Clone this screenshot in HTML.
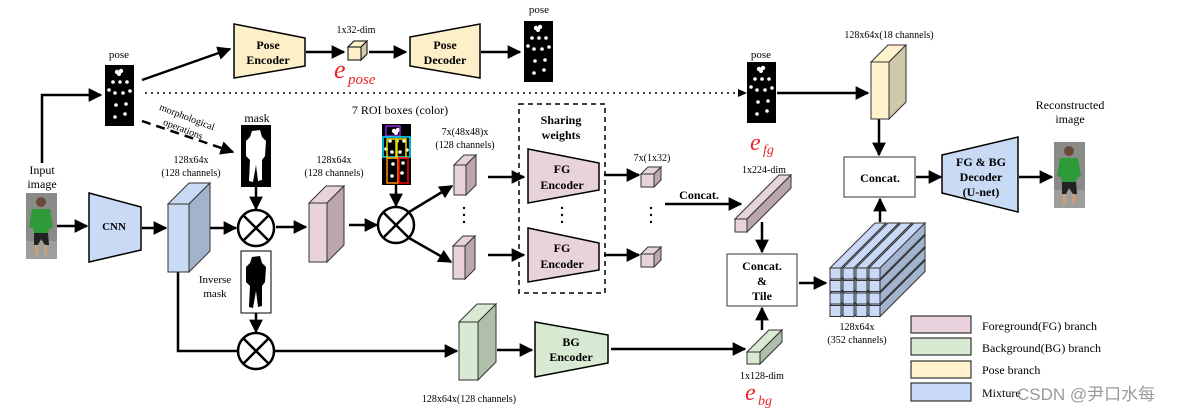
<!DOCTYPE html>
<html><head><meta charset="utf-8"><style>
html,body{margin:0;padding:0;background:#fff}
svg{display:block}
text{font-family:"Liberation Serif",serif;fill:#000}
.b{font-weight:bold;font-size:12px}
.s{font-size:10px}
.l{font-size:13px}
</style></head><body>
<svg width="1184" height="414" viewBox="0 0 1184 414" xmlns="http://www.w3.org/2000/svg">
<defs>
<marker id="a" viewBox="0 0 10 10" refX="9" refY="5" markerWidth="5.5" markerHeight="5.5" orient="auto" markerUnits="strokeWidth"><path d="M0,0 L10,5 L0,10 z" fill="#000"/></marker>
<g id="bar" stroke="#333" stroke-width="1">
<polygon points="0,0 45,-45 56,-45 11,0" fill="#c9daf8"/>
<polygon points="11,0 56,-45 56,-34 11,11" fill="#a3b4cf"/>
<rect x="0" y="0" width="11" height="11" fill="#c9daf8"/>
</g>
<g id="pose">
<rect x="0" y="0" width="29" height="61" fill="#000"/>
<g fill="#fff"><circle cx="12" cy="7" r="2.2"/><circle cx="16" cy="6" r="2.2"/><circle cx="14" cy="9" r="2"/>
<circle cx="8" cy="17" r="1.8"/><circle cx="15" cy="17" r="1.8"/><circle cx="22" cy="17" r="1.8"/>
<circle cx="4" cy="25" r="1.8"/><circle cx="25" cy="26" r="1.8"/><circle cx="10" cy="28" r="1.8"/><circle cx="18" cy="28" r="1.8"/>
<circle cx="11" cy="40" r="1.8"/><circle cx="21" cy="39" r="1.8"/><circle cx="10" cy="52" r="1.8"/><circle cx="20" cy="49" r="1.8"/></g>
</g>
<g id="person">
<rect x="0" y="0" width="31" height="66" fill="#8a8a86"/>
<rect x="0" y="48" width="31" height="18" fill="#a09e9a"/>
<circle cx="15" cy="9" r="5" fill="#6b4a3a"/>
<path d="M6,16 L24,16 L27,34 L23,36 L22,40 L8,40 L7,35 L3,34 z" fill="#2e9a3a"/>
<path d="M8,40 L22,40 L23,52 L19,52 L15,46 L12,52 L8,52 z" fill="#222"/>
<rect x="9" y="52" width="3" height="10" fill="#c8a080"/><rect x="18" y="52" width="3" height="10" fill="#c8a080"/>
</g>
</defs>

<g stroke="#000" stroke-width="2.5" fill="none">
<polyline points="42,163 42,95 101,95" marker-end="url(#a)"/>
<line x1="142" y1="80" x2="230" y2="49" marker-end="url(#a)"/>
<line x1="306" y1="52" x2="344" y2="52" marker-end="url(#a)"/>
<line x1="369" y1="52" x2="406" y2="52" marker-end="url(#a)"/>
<line x1="481" y1="52" x2="520" y2="52" marker-end="url(#a)"/>
<line x1="142" y1="121" x2="233" y2="152" stroke-dasharray="9,6" marker-end="url(#a)"/>
<line x1="57" y1="226" x2="87" y2="226" marker-end="url(#a)"/>
<line x1="142" y1="228" x2="166" y2="228" marker-end="url(#a)"/>
<line x1="210" y1="228" x2="236" y2="228" marker-end="url(#a)"/>
<line x1="256" y1="187" x2="256" y2="209" marker-end="url(#a)"/>
<line x1="276" y1="227" x2="306" y2="227" marker-end="url(#a)"/>
<line x1="349" y1="225" x2="377" y2="225" marker-end="url(#a)"/>
<line x1="396" y1="185" x2="396" y2="206" marker-end="url(#a)"/>
<line x1="409" y1="212" x2="452" y2="186" marker-end="url(#a)"/>
<line x1="409" y1="238" x2="451" y2="262" marker-end="url(#a)"/>
<line x1="488" y1="177" x2="524" y2="177" marker-end="url(#a)"/>
<line x1="488" y1="255" x2="524" y2="255" marker-end="url(#a)"/>
<line x1="256" y1="313" x2="256" y2="332" marker-end="url(#a)"/>
<polyline points="178,272 178,351 238,351"/>
<line x1="274" y1="351" x2="457" y2="351" marker-end="url(#a)"/>
<line x1="497" y1="350" x2="532" y2="350" marker-end="url(#a)"/>
<line x1="604" y1="175" x2="639" y2="175" marker-end="url(#a)"/>
<line x1="604" y1="255" x2="639" y2="255" marker-end="url(#a)"/>
<line x1="665" y1="204" x2="741" y2="204" marker-end="url(#a)"/>
<line x1="762" y1="222" x2="762" y2="252" marker-end="url(#a)"/>
<line x1="611" y1="349" x2="745" y2="349" marker-end="url(#a)"/>
<line x1="762" y1="330" x2="762" y2="308" marker-end="url(#a)"/>
<line x1="799" y1="283" x2="826" y2="283" marker-end="url(#a)"/>
<line x1="880" y1="222" x2="880" y2="199" marker-end="url(#a)"/>
<line x1="777" y1="93" x2="868" y2="93" marker-end="url(#a)"/>
<line x1="879" y1="119" x2="879" y2="155" marker-end="url(#a)"/>
<line x1="916" y1="177" x2="941" y2="177" marker-end="url(#a)"/>
<line x1="1019" y1="177" x2="1052" y2="177" marker-end="url(#a)"/>
</g>
<line x1="145" y1="93" x2="744" y2="93" stroke="#000" stroke-width="1.5" stroke-dasharray="2,4"/>
<path d="M738,89 L747,93 L738,97 z" fill="#000"/>
<rect x="519" y="104" width="86" height="189" fill="none" stroke="#000" stroke-width="1.5" stroke-dasharray="5,4"/>

<use href="#pose" x="105" y="65"/>
<text x="119" y="58" text-anchor="middle" style="font-size:11px">pose</text>
<polygon points="234,24 305,38 305,66 234,78" fill="#fdefc7" stroke="#000" stroke-width="1.5"/>
<text x="268" y="49" text-anchor="middle" class="b">Pose</text>
<text x="268" y="64" text-anchor="middle" class="b">Encoder</text>
<g stroke="#000" stroke-width="1"><polygon points="348,47 354,41 367,41 361,47" fill="#fdefc7"/><polygon points="361,47 367,41 367,54 361,60" fill="#d4cba8"/><rect x="348" y="47" width="13" height="13" fill="#fdefc7"/></g>
<text x="356" y="33" text-anchor="middle" class="s">1x32-dim</text>
<text x="334" y="78" style="font-size:26px;font-style:italic;fill:#e8262b">e</text>
<text x="348" y="84" style="font-size:15px;font-style:italic;fill:#e8262b">pose</text>
<polygon points="410,37 480,24 480,78 410,66" fill="#fdefc7" stroke="#000" stroke-width="1.5"/>
<text x="445" y="49" text-anchor="middle" class="b">Pose</text>
<text x="445" y="64" text-anchor="middle" class="b">Decoder</text>
<use href="#pose" x="524" y="21"/>
<text x="539" y="13" text-anchor="middle" style="font-size:11px">pose</text>

<text transform="translate(186,120) rotate(21)" text-anchor="middle" class="s">morphological</text>
<text transform="translate(182,132) rotate(21)" text-anchor="middle" class="s">operations</text>

<text x="42" y="174" text-anchor="middle" style="font-size:12px">Input</text>
<text x="42" y="188" text-anchor="middle" style="font-size:12px">image</text>
<use href="#person" x="26" y="193"/>

<polygon points="89,193 141,207 141,250 89,262" fill="#c9daf5" stroke="#000" stroke-width="1.5"/>
<text x="114" y="230" text-anchor="middle" class="b" style="font-size:11px">CNN</text>

<g stroke="#333" stroke-width="1">
<polygon points="168,204 189,183 210,183 189,204" fill="#c9daf5"/><polygon points="189,204 210,183 210,251 189,272" fill="#a3b3cc"/><rect x="168" y="204" width="21" height="68" fill="#c9daf5"/>
<polygon points="309,203 326,186 344,186 327,203" fill="#e8d3dc"/><polygon points="327,203 344,186 344,245 327,262" fill="#bba5ae"/><rect x="309" y="203" width="18" height="59" fill="#e8d3dc"/>
<polygon points="454,165 464,155 476,155 466,165" fill="#e8d3dc"/><polygon points="466,165 476,155 476,185 466,195" fill="#bba5ae"/><rect x="454" y="165" width="12" height="30" fill="#e8d3dc"/>
<polygon points="453,246 463,236 475,236 465,246" fill="#e8d3dc"/><polygon points="465,246 475,236 475,269 465,279" fill="#bba5ae"/><rect x="453" y="246" width="12" height="33" fill="#e8d3dc"/>
<polygon points="459,322 477,304 496,304 478,322" fill="#d9ead3"/><polygon points="478,322 496,304 496,362 478,380" fill="#afbfaa"/><rect x="459" y="322" width="19" height="58" fill="#d9ead3"/>
<polygon points="871,62 888,45 906,45 889,62" fill="#fff2cc"/><polygon points="889,62 906,45 906,102 889,119" fill="#d0c8aa"/><rect x="871" y="62" width="18" height="57" fill="#fff2cc"/>
<polygon points="641,174 648,167 661,167 654,174" fill="#e8d3dc"/><polygon points="654,174 661,167 661,180 654,187" fill="#bba5ae"/><rect x="641" y="174" width="13" height="13" fill="#e8d3dc"/>
<polygon points="641,254 648,247 661,247 654,254" fill="#e8d3dc"/><polygon points="654,254 661,247 661,260 654,267" fill="#bba5ae"/><rect x="641" y="254" width="13" height="13" fill="#e8d3dc"/>
<polygon points="735,219 779,175 791,175 747,219" fill="#e8d3dc"/><polygon points="747,219 791,175 791,188 747,232" fill="#bba5ae"/><rect x="735" y="219" width="12" height="13" fill="#e8d3dc"/>
<polygon points="747,352 769,330 782,330 760,352" fill="#d9ead3"/><polygon points="760,352 782,330 782,342 760,364" fill="#afbfaa"/><rect x="747" y="352" width="13" height="12" fill="#d9ead3"/>
</g>
<text x="191" y="163" text-anchor="middle" class="s">128x64x</text>
<text x="191" y="176" text-anchor="middle" class="s">(128 channels)</text>
<text x="334" y="163" text-anchor="middle" class="s">128x64x</text>
<text x="334" y="176" text-anchor="middle" class="s">(128 channels)</text>

<g stroke="#000" stroke-width="2.5" fill="#fff">
<circle cx="256" cy="228" r="18"/><path d="M243,215 L269,241 M269,215 L243,241"/>
<circle cx="396" cy="225" r="18"/><path d="M383,212 L409,238 M409,212 L383,238"/>
<circle cx="256" cy="351" r="18"/><path d="M243,338 L269,364 M269,338 L243,364"/>
</g>

<text x="257" y="122" text-anchor="middle" style="font-size:12px">mask</text>
<rect x="241" y="125" width="30" height="62" fill="#000"/>
<path d="M252,131 L260,130 L262,137 L266,141 L265,156 L262,160 L262,180 L258,181 L256,165 L253,182 L249,181 L250,160 L246,156 L246,141 L250,137 z" fill="#fff"/>
<rect x="241" y="251" width="30" height="62" fill="#fff" stroke="#000" stroke-width="1"/>
<path d="M252,257 L260,256 L262,263 L266,267 L265,282 L262,286 L262,306 L258,307 L256,291 L253,308 L249,307 L250,286 L246,282 L246,267 L250,263 z" fill="#000"/>
<text x="215" y="283" text-anchor="middle" style="font-size:11px">Inverse</text>
<text x="215" y="297" text-anchor="middle" style="font-size:11px">mask</text>

<text x="400" y="114" text-anchor="middle" style="font-size:12px">7 ROI boxes (color)</text>
<use href="#pose" x="382" y="124"/>
<rect x="386" y="126" width="14" height="10" fill="none" stroke="#8a2be2" stroke-width="1.5"/>
<rect x="383" y="137" width="27" height="20" fill="none" stroke="#00e5ff" stroke-width="1.5"/>
<rect x="387" y="139" width="9" height="19" fill="none" stroke="#e6d800" stroke-width="1.5"/>
<rect x="397" y="139" width="9" height="19" fill="none" stroke="#e6d800" stroke-width="1.5"/>
<rect x="387" y="158" width="11" height="25" fill="none" stroke="#ff8c00" stroke-width="1.5"/>
<rect x="399" y="158" width="9" height="25" fill="none" stroke="#ff0000" stroke-width="1.5"/>
<text x="465" y="135" text-anchor="middle" class="s">7x(48x48)x</text>
<text x="465" y="148" text-anchor="middle" class="s">(128 channels)</text>
<g fill="#000"><circle cx="464" cy="208" r="1.2"/><circle cx="464" cy="215" r="1.2"/><circle cx="464" cy="222" r="1.2"/>
<circle cx="562" cy="208" r="1.2"/><circle cx="562" cy="215" r="1.2"/><circle cx="562" cy="222" r="1.2"/>
<circle cx="651" cy="208" r="1.2"/><circle cx="651" cy="215" r="1.2"/><circle cx="651" cy="222" r="1.2"/></g>

<text x="561" y="124" text-anchor="middle" class="b">Sharing</text>
<text x="561" y="139" text-anchor="middle" class="b">weights</text>
<polygon points="528,149 599,163 599,190 528,203" fill="#e8d3dc" stroke="#000" stroke-width="1.5"/>
<text x="562" y="173" text-anchor="middle" class="b">FG</text>
<text x="562" y="189" text-anchor="middle" class="b">Encoder</text>
<polygon points="528,228 599,243 599,270 528,282" fill="#e8d3dc" stroke="#000" stroke-width="1.5"/>
<text x="562" y="252" text-anchor="middle" class="b">FG</text>
<text x="562" y="268" text-anchor="middle" class="b">Encoder</text>

<polygon points="535,322 608,335 608,363 535,377" fill="#d9ead3" stroke="#000" stroke-width="1.5"/>
<text x="571" y="346" text-anchor="middle" class="b">BG</text>
<text x="571" y="361" text-anchor="middle" class="b">Encoder</text>
<text x="469" y="402" text-anchor="middle" class="s">128x64x(128 channels)</text>

<text x="652" y="161" text-anchor="middle" class="s">7x(1x32)</text>
<text x="699" y="199" text-anchor="middle" class="b">Concat.</text>
<text x="750" y="150" style="font-size:24px;font-style:italic;fill:#e8262b">e</text>
<text x="763" y="154" style="font-size:14px;font-style:italic;fill:#e8262b">fg</text>
<text x="764" y="173" text-anchor="middle" class="s">1x224-dim</text>
<text x="762" y="379" text-anchor="middle" class="s">1x128-dim</text>
<text x="745" y="400" style="font-size:24px;font-style:italic;fill:#e8262b">e</text>
<text x="758" y="405" style="font-size:14px;font-style:italic;fill:#e8262b">bg</text>

<rect x="727" y="254" width="70" height="52" fill="#fff" stroke="#555" stroke-width="1.2"/>
<text x="762" y="270" text-anchor="middle" class="b">Concat.</text>
<text x="762" y="285" text-anchor="middle" class="b">&amp;</text>
<text x="762" y="300" text-anchor="middle" class="b">Tile</text>

<use href="#bar" x="830" y="305.5"/><use href="#bar" x="843" y="305.5"/><use href="#bar" x="856" y="305.5"/><use href="#bar" x="869" y="305.5"/>
<use href="#bar" x="830" y="293"/><use href="#bar" x="843" y="293"/><use href="#bar" x="856" y="293"/><use href="#bar" x="869" y="293"/>
<use href="#bar" x="830" y="280.5"/><use href="#bar" x="843" y="280.5"/><use href="#bar" x="856" y="280.5"/><use href="#bar" x="869" y="280.5"/>
<use href="#bar" x="830" y="268"/><use href="#bar" x="843" y="268"/><use href="#bar" x="856" y="268"/><use href="#bar" x="869" y="268"/>
<text x="857" y="330" text-anchor="middle" class="s">128x64x</text>
<text x="857" y="343" text-anchor="middle" class="s">(352 channels)</text>

<use href="#pose" x="747" y="62"/>
<text x="761" y="58" text-anchor="middle" style="font-size:11px">pose</text>
<text x="889" y="38" text-anchor="middle" class="s">128x64x(18 channels)</text>

<rect x="844" y="157" width="71" height="40" fill="#fff" stroke="#555" stroke-width="1.2"/>
<text x="880" y="182" text-anchor="middle" class="b">Concat.</text>
<polygon points="942,155 1018,137 1018,212 942,193" fill="#c9daf5" stroke="#000" stroke-width="1.5"/>
<text x="981" y="166" text-anchor="middle" class="b">FG &amp; BG</text>
<text x="981" y="181" text-anchor="middle" class="b">Decoder</text>
<text x="981" y="196" text-anchor="middle" class="b">(U-net)</text>
<text x="1070" y="109" text-anchor="middle" style="font-size:12px">Reconstructed</text>
<text x="1070" y="123" text-anchor="middle" style="font-size:12px">image</text>
<use href="#person" x="1054" y="142"/>

<g stroke="#333" stroke-width="1.2">
<rect x="911" y="316" width="60" height="17" fill="#e8d1dc"/>
<rect x="911" y="338" width="60" height="17" fill="#d9ead3"/>
<rect x="911" y="361" width="60" height="17" fill="#fff2cc"/>
<rect x="911" y="383" width="60" height="18" fill="#c9daf8"/>
</g>
<text x="982" y="330" style="font-size:12px">Foreground(FG) branch</text>
<text x="982" y="352" style="font-size:12px">Background(BG) branch</text>
<text x="982" y="374" style="font-size:12px">Pose branch</text>
<text x="982" y="397" style="font-size:12px">Mixture</text>
<text x="1017" y="400" style="font-family:'Liberation Sans','Noto Sans CJK SC',sans-serif;font-size:17px;fill:#9a9a9a">CSDN @尹口水每</text>
</svg>
</body></html>
